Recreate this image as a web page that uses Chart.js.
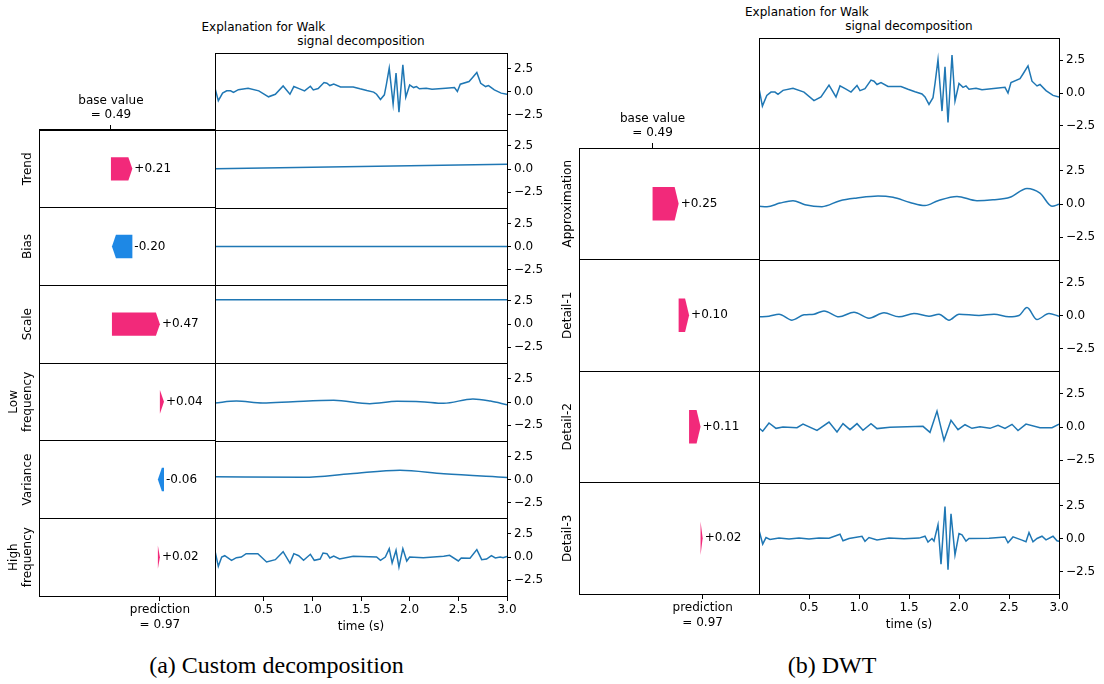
<!DOCTYPE html>
<html><head><meta charset="utf-8">
<script src="https://cdn.jsdelivr.net/npm/chart.js@4.4.1/dist/chart.umd.min.js"></script>
<style>
html,body{margin:0;padding:0;background:#fff;}
#fig{position:relative;width:1104px;height:684px;overflow:hidden;font-family:'DejaVu Sans';}
canvas{position:absolute;}
.t{position:absolute;white-space:nowrap;line-height:1;font-size:12px;color:#000;font-family:'DejaVu Sans';}
.c{transform:translate(-50%,-50%);}
.l{transform:translate(0,-50%);}
.cap{font-family:'Liberation Serif';font-size:24px;}
</style></head><body><div id="fig"></div>
<script>
// ---------------- data ----------------
const Y_TICKS = [-2.5, 0, 2.5];
const Y_TICK_LABELS = ['\u22122.5', '0.0', '2.5'];
const X_TICKS = [0.5, 1.0, 1.5, 2.0, 2.5, 3.0];

const BASE_VALUE = 0.49;
const FEATURES_A = [['Trend'], ['Bias'], ['Scale'], ['Low', 'frequency'], ['Variance'], ['High', 'frequency']];
const SHAP_A = [0.21, -0.20, 0.47, 0.04, -0.06, 0.02];
const FEATURES_B = [['Approximation'], ['Detail-1'], ['Detail-2'], ['Detail-3']];
const SHAP_B = [0.25, 0.10, 0.11, 0.02];

// walk signal (same in both panels)
const walkT = [0,0.034,0.078,0.12,0.16,0.19,0.24,0.34,0.45,0.55,0.62,0.70,0.77,0.81,0.87,0.92,0.98,1.01,1.06,1.12,1.15,1.18,1.22,1.29,1.42,1.49,1.56,1.63,1.66,1.70,1.74,1.76,1.79,1.83,1.86,1.89,1.93,1.96,2.00,2.04,2.07,2.10,2.17,2.23,2.37,2.46,2.49,2.52,2.61,2.64,2.69,2.73,2.78,2.81,2.87,2.94,3.0];
const walkV = [0.36,-1.0,-0.18,0.07,0.07,-0.1,0.2,0.36,0.07,-0.58,-0.3,0.6,-0.3,0.54,0.29,0.07,0.58,0.18,0.33,0.98,0.9,0.65,0.8,0.5,0.5,0.29,0.1,-0.07,-0.3,-0.87,-0.36,0.72,2.54,-1.38,2.0,-2.25,2.9,-0.62,0.72,0.43,0.54,0.29,0.36,0.25,0.36,0.43,0.0,0.8,1.09,1.45,2.07,0.9,0.54,0.65,0.18,-0.18,-0.3];

// (a) custom decomposition
const trendT = [0, 3.0];
const trendV = [0.02, 0.5];
const biasT = [0, 3.0];
const biasV = [0, 0];
const scaleT = [0, 3.0];
const scaleV = [2.6, 2.6];
const lowT = [0,0.22,0.49,0.8,1.22,1.59,1.87,2.11,2.35,2.65,2.83,3.0];
const lowV = [-0.1,0.1,-0.1,0.04,0.18,-0.18,0.07,0.04,-0.14,0.33,0.1,-0.29];
const varT = [0,0.91,1.39,1.9,2.35,3.0];
const varV = [0.29,0.25,0.62,1.01,0.62,0.22];
const highT = [0,0.034,0.069,0.1,0.17,0.22,0.27,0.32,0.44,0.53,0.62,0.70,0.77,0.81,0.86,0.91,0.98,1.02,1.08,1.11,1.15,1.18,1.22,1.28,1.42,1.66,1.70,1.75,1.79,1.82,1.86,1.89,1.93,1.97,2.00,2.14,2.35,2.41,2.50,2.53,2.62,2.69,2.74,2.79,2.84,2.88,2.93,2.96,3.0];
const highV = [0.65,-1.0,0,0.14,-0.36,-0.07,0,0.36,0.36,-0.54,-0.29,0.58,-0.65,0.36,0.14,-0.36,0.29,-0.36,-0.22,0.43,0.36,-0.1,0.1,-0.22,0.07,0,-0.36,0,0.9,-0.65,0.72,-1.09,0.9,-0.43,0,-0.07,0.07,0.18,-0.43,-0.1,-0.14,0.8,-0.29,-0.22,0.14,-0.1,0,-0.07,0.07];

// (b) DWT
const apT = [0,0.08,0.21,0.34,0.46,0.63,0.81,0.98,1.19,1.34,1.51,1.66,1.79,1.98,2.18,2.34,2.51,2.68,2.81,2.93,3.0];
const apV = [-0.17,-0.2,0.07,0.25,-0.05,-0.2,0.25,0.45,0.6,0.5,0.12,-0.12,0.25,0.57,0.25,0.32,0.5,1.17,0.82,-0.17,-0.02];
const d1T = [0,0.1,0.2,0.33,0.45,0.55,0.65,0.8,0.95,1.1,1.25,1.4,1.55,1.7,1.8,1.9,2.0,2.2,2.35,2.5,2.6,2.68,2.78,2.9,3.0];
const d1V = [-0.1,-0.05,0.1,-0.35,0.05,0.1,0.35,-0.1,0.25,-0.2,0.2,-0.1,0.15,-0.05,0.1,-0.35,0.1,0,0.1,-0.1,0,0.6,-0.3,0.15,-0.05];
const d2T = [0,0.037,0.10,0.17,0.24,0.38,0.44,0.58,0.70,0.78,0.84,0.91,0.98,1.04,1.12,1.18,1.31,1.48,1.64,1.71,1.78,1.85,1.92,1.99,2.06,2.13,2.21,2.31,2.39,2.46,2.53,2.59,2.67,2.81,2.93,3.0];
const d2V = [-0.07,-0.32,0.3,-0.1,0,-0.05,0.22,-0.25,0.37,-0.37,0.25,-0.2,0.25,-0.25,0.25,-0.12,-0.02,0.02,0.05,-0.4,1.19,-1.0,0.5,-0.2,0.17,-0.1,0.02,-0.1,0.12,-0.1,0.2,-0.27,0.22,-0.05,-0.05,0.22];
const d3T = [0,0.037,0.07,0.11,0.2,0.3,0.4,0.5,0.6,0.7,0.81,0.84,0.9,1.03,1.06,1.1,1.18,1.3,1.45,1.6,1.66,1.69,1.73,1.75,1.79,1.82,1.86,1.89,1.92,1.96,2.0,2.03,2.07,2.1,2.3,2.46,2.49,2.54,2.63,2.67,2.70,2.74,2.78,2.83,2.87,2.94,2.98,3.0];
const d3V = [0.62,-0.42,0.07,-0.07,0.03,-0.03,0.04,-0.04,0.03,0.02,0.32,-0.17,0,0.17,-0.22,0.07,-0.12,0.03,-0.02,0.03,0.17,-0.27,0,-0.2,1.04,-1.94,2.41,-2.36,1.87,-1.24,0.37,0.27,-0.2,0,0.02,0.12,-0.32,0.12,-0.12,-0.25,0.45,-0.25,0,0.17,-0.1,0.17,-0.17,-0.2];

// ---------------- style / layout ----------------
const LINE = '#1f77b4';
const POS = '#F2297A';
const NEG = '#1E88E5';
const SHAP_MIN = -0.215, SHAP_MAX = 1.51;
const Y_MIN = -4.2, Y_MAX = 4.2;

Chart.defaults.font.family = "'DejaVu Sans'";
Chart.defaults.font.size = 12;
Chart.defaults.color = '#000';

const fig = document.getElementById('fig');

const framePlugin = {
  id: 'frame',
  afterDraw(c) {
    const a = c.chartArea, x = c.ctx;
    x.save(); x.strokeStyle = '#000'; x.lineWidth = 1;
    x.strokeRect(Math.round(a.left) + 0.5, Math.round(a.top) + 0.5, Math.round(a.right - a.left), Math.round(a.bottom - a.top));
    x.restore();
  }
};

function seriesChart(L, R, T, B, t, v, showX, smooth) {
  const AW = 46, XH = 46;
  const cv = document.createElement('canvas');
  cv.width = (R - L) + 1 + AW; cv.height = (B - T) + 1 + (showX ? XH : 1);
  cv.style.left = (L - 1) + 'px'; cv.style.top = (T - 1) + 'px';
  fig.appendChild(cv);
  new Chart(cv, {
    type: 'scatter',
    data: { datasets: [{ data: t.map((x, i) => ({ x: x, y: v[i] })), showLine: true, borderColor: LINE, borderWidth: 1.5,
      pointRadius: 0, tension: smooth ? 0.4 : 0, cubicInterpolationMode: smooth ? 'monotone' : 'default' }] },
    options: {
      responsive: false, maintainAspectRatio: false, animation: false, events: [],
      layout: { autoPadding: false, padding: { left: 1, top: 1, right: 0, bottom: showX ? 0 : 1 } },
      plugins: { legend: { display: false }, tooltip: { enabled: false } },
      scales: {
        x: { type: 'linear', min: 0, max: 3, display: showX,
          afterBuildTicks: s => { s.ticks = X_TICKS.map(q => ({ value: q })); },
          ticks: { callback: q => q.toFixed(1), padding: 2, maxRotation: 0, autoSkip: false },
          grid: { drawOnChartArea: false, tickLength: 5, color: '#000' },
          border: { display: false },
          title: { display: true, text: 'time (s)', padding: { top: 0, bottom: 8 } },
          afterFit: s => { s.height = showX ? XH : 0; s.paddingLeft = 0; s.paddingRight = 0; } },
        y: { position: 'right', min: Y_MIN, max: Y_MAX,
          afterBuildTicks: s => { s.ticks = Y_TICKS.map(q => ({ value: q })); },
          ticks: { callback: (q, i) => Y_TICK_LABELS[i], padding: 3 },
          grid: { drawOnChartArea: false, tickLength: 4, color: '#000' },
          border: { display: false },
          afterFit: s => { s.width = AW; s.paddingTop = 0; s.paddingBottom = 0; } }
      }
    },
    plugins: [framePlugin]
  });
}

const arrowPlugin = {
  id: 'arrows',
  afterDatasetsDraw(c) {
    const meta = c.getDatasetMeta(0), xs = c.scales.x, ctx = c.ctx;
    const vals = c.data.datasets[0].data;
    ctx.save();
    meta.data.forEach((el, i) => {
      const x0 = xs.getPixelForValue(vals[i][0]), x1 = xs.getPixelForValue(vals[i][1]);
      const h = el.height, y = el.y;
      const dir = x1 >= x0 ? 1 : -1;
      const w = Math.abs(x1 - x0);
      const hd = Math.min(4, w);
      ctx.beginPath();
      ctx.moveTo(x0, y - h / 2);
      ctx.lineTo(x1 - dir * hd, y - h / 2);
      ctx.lineTo(x1, y);
      ctx.lineTo(x1 - dir * hd, y + h / 2);
      ctx.lineTo(x0, y + h / 2);
      ctx.closePath();
      ctx.fillStyle = dir > 0 ? POS : NEG;
      ctx.fill();
      const d = vals[i][1] - vals[i][0];
      const txt = (d >= 0 ? '+' : '-') + Math.abs(d).toFixed(2);
      ctx.fillStyle = '#000';
      ctx.font = "12px 'DejaVu Sans'";
      ctx.textAlign = 'left'; ctx.textBaseline = 'middle';
      ctx.fillText(txt, Math.max(x0, x1) + 2, y);
    });
    ctx.restore();
  }
};

const rowLabelPlugin = {
  id: 'rowlabels',
  afterDraw(c, args, opts) {
    const ctx = c.ctx, ys = c.scales.y, L = c.chartArea.left;
    ctx.save();
    ctx.fillStyle = '#000'; ctx.font = "12px 'DejaVu Sans'";
    ctx.textAlign = 'center'; ctx.textBaseline = 'middle';
    opts.labels.forEach((lines, i) => {
      const y = ys.getPixelForValue(i);
      const n = lines.length;
      lines.forEach((ln, k) => {
        const cx = L - 11 - (n - 1 - k) * 14;
        ctx.save(); ctx.translate(cx, y); ctx.rotate(-Math.PI / 2);
        ctx.fillText(ln, 0, 0); ctx.restore();
      });
    });
    ctx.restore();
  }
};

function shapChart(L, R, T, B, feats, shap, base) {
  let cum = base;
  const floats = shap.map(s => { const a = [cum, cum + s]; cum += s; return a; });
  const pred = cum;
  const TH = 50, BH = 50, PL = 40;
  const cv = document.createElement('canvas');
  cv.width = (R - L) + PL + 1; cv.height = (B - T) + TH + BH;
  cv.style.left = (L - PL) + 'px'; cv.style.top = (T - TH) + 'px';
  fig.appendChild(cv);
  new Chart(cv, {
    type: 'bar',
    data: { labels: feats.map(f => f.join(' ')),
      datasets: [{ data: floats, backgroundColor: 'rgba(0,0,0,0)', borderWidth: 0, barPercentage: 0.3, categoryPercentage: 1, xAxisID: 'x' }] },
    options: {
      indexAxis: 'y', responsive: false, maintainAspectRatio: false, animation: false, events: [],
      layout: { autoPadding: false, padding: { left: PL, right: 1, top: 0, bottom: 0 } },
      plugins: { legend: { display: false }, tooltip: { enabled: false }, rowlabels: { labels: feats } },
      scales: {
        y: { type: 'category', offset: true,
          ticks: { display: false },
          grid: { offset: true, color: '#000', lineWidth: 1, drawTicks: false },
          border: { display: false },
          afterFit: s => { s.width = 0; s.paddingTop = 0; s.paddingBottom = 0; } },
        x: { type: 'linear', position: 'bottom', min: SHAP_MIN, max: SHAP_MAX,
          afterBuildTicks: s => { s.ticks = [{ value: pred }]; },
          ticks: { callback: () => ['prediction', '= ' + pred.toFixed(2)], padding: 2, maxRotation: 0 },
          grid: { drawOnChartArea: false, tickLength: 5, color: '#000' },
          border: { display: false },
          afterFit: s => { s.height = BH; s.paddingLeft = 0; s.paddingRight = 0; } },
        xTop: { type: 'linear', position: 'top', min: SHAP_MIN, max: SHAP_MAX,
          afterBuildTicks: s => { s.ticks = [{ value: base }]; },
          ticks: { callback: () => ['base value', '= ' + base.toFixed(2)], padding: 3, maxRotation: 0 },
          grid: { drawOnChartArea: false, tickLength: 5, color: '#000' },
          border: { display: false },
          afterFit: s => { s.height = TH; s.paddingLeft = 0; s.paddingRight = 0; } }
      }
    },
    plugins: [arrowPlugin, rowLabelPlugin, framePlugin]
  });
}

function text(str, x, y, cls) {
  const d = document.createElement('div');
  d.className = 't ' + cls;
  d.textContent = str;
  d.style.left = x + 'px'; d.style.top = y + 'px';
  fig.appendChild(d);
}

// ---------------- panel (a) ----------------
const rowsA = [53, 130, 208, 285, 363, 441, 518, 596];
const seriesA = [[walkT, walkV, false], [trendT, trendV, false], [biasT, biasV, false], [scaleT, scaleV, false],
                 [lowT, lowV, true], [varT, varV, true], [highT, highV, false]];
seriesA.forEach((s, i) => seriesChart(215, 507, rowsA[i], rowsA[i + 1], s[0], s[1], i === seriesA.length - 1, s[2]));
shapChart(39, 215, 130, 596, FEATURES_A, SHAP_A, BASE_VALUE);
text('Explanation for Walk', 201.5, 27, 'l');
text('signal decomposition', 361, 41, 'c');
text('(a) Custom decomposition', 276.5, 665, 'c cap');

// ---------------- panel (b) ----------------
const rowsB = [38, 148, 260, 371, 483, 594];
const seriesB = [[walkT, walkV, false], [apT, apV, true], [d1T, d1V, true], [d2T, d2V, false], [d3T, d3V, false]];
seriesB.forEach((s, i) => seriesChart(759, 1059, rowsB[i], rowsB[i + 1], s[0], s[1], i === seriesB.length - 1, s[2]));
shapChart(579, 759, 148, 594, FEATURES_B, SHAP_B, BASE_VALUE);
text('Explanation for Walk', 745, 12, 'l');
text('signal decomposition', 909, 26, 'c');
text('(b) DWT', 832, 665, 'c cap');
</script>
</body></html>
